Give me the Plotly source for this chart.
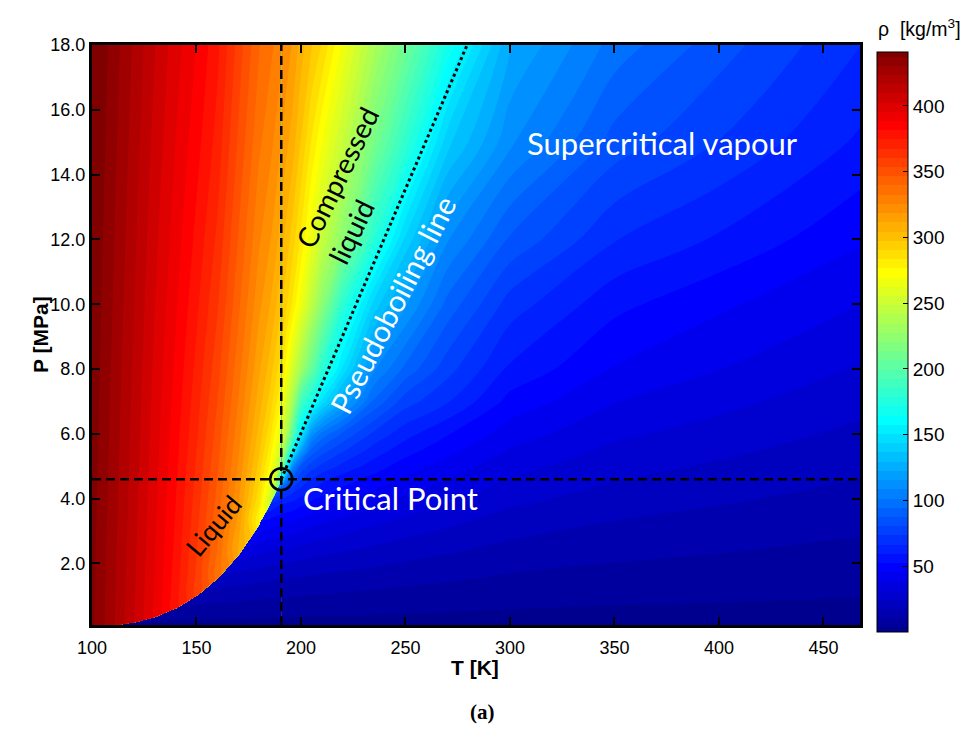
import plotly.graph_objects as go

N = None

# ---------------- data (methane density, kg/m3) ----------------
T_CRIT = 190.56
P_CRIT = 4.5992

# liquid / compressed-liquid side (T <= Tc); rows below Pc are saturation pressures
T_LIQ = [100, 110, 120, 130, 140, 150, 160, 170, 180, 185, 188, 190.56]
P_LIQ = [0.0881, 0.1917, 0.3680, 0.6412, 1.0405, 1.5928, 2.3283, 3.2860, 3.8590,
         4.2530, 4.5992, 5, 5.5, 6, 7, 8, 10, 12, 15, 18]
RHO_LIQ = [
    [438.9, 424.8, N, N, N, N, N, N, N, N, N, N],
    [439.0, 424.9, 409.9, N, N, N, N, N, N, N, N, N],
    [439.0, 424.9, 410.0, 394.0, N, N, N, N, N, N, N, N],
    [439.2, 425.1, 410.2, 394.2, 376.9, N, N, N, N, N, N, N],
    [439.4, 425.3, 410.5, 394.6, 377.5, 357.9, N, N, N, N, N, N],
    [439.6, 425.6, 410.9, 395.1, 378.3, 359.2, 336.1, N, N, N, N, N],
    [439.9, 426.0, 411.4, 395.8, 379.4, 360.8, 338.7, 310.5, N, N, N, N],
    [440.4, 426.6, 412.1, 396.6, 380.8, 362.9, 342.0, 316.3, 276.7, N, N, N],
    [440.6, 426.9, 412.5, 397.1, 381.6, 364.1, 343.9, 319.3, 284.2, 251.7, N, N],
    [440.8, 427.1, 412.7, 397.5, 382.1, 365.0, 345.2, 321.3, 288.4, 261.9, 231.0, N],
    [441.0, 427.3, 413.0, 397.8, 382.6, 365.7, 346.3, 322.9, 291.7, 268.7, 245.3, 162.7],
    [441.1, 427.5, 413.3, 398.2, 383.2, 366.5, 347.6, 324.7, 295.1, 275.0, 256.5, 232.0],
    [441.4, 427.8, 413.6, 398.6, 383.9, 367.6, 349.1, 326.8, 298.8, 281.4, 266.4, 250.0],
    [441.6, 428.1, 414.0, 399.1, 384.5, 368.6, 350.6, 328.7, 302.2, 286.7, 274.0, 261.0],
    [442.0, 428.6, 414.7, 400.0, 385.8, 370.5, 353.5, 332.3, 307.9, 295.2, 285.1, 276.0],
    [442.5, 429.2, 415.4, 400.9, 387.1, 372.5, 356.3, 335.6, 312.7, 301.8, 293.4, 286.0],
    [443.4, 430.3, 416.8, 402.7, 389.7, 376.1, 361.4, 341.3, 320.4, 311.9, 305.3, 298.0],
    [444.3, 431.4, 418.2, 404.5, 392.1, 379.5, 366.0, 346.1, 326.5, 319.4, 313.9, 307.0],
    [445.6, 433.0, 420.3, 407.2, 395.4, 384.2, 371.8, 352.3, 333.9, 328.1, 323.6, 318.0],
    [447.0, 434.6, 422.4, 409.9, 398.5, 388.3, 376.3, 357.5, 339.8, 334.8, 331.0, 328.0],
]

# vapour side below the critical temperature (same saturation-pressure rows)
T_VAP = [110, 120, 130, 140, 150, 160, 170, 180, 185, 188, 190.56]
P_VAP = [0.0881, 0.1917, 0.3680, 0.6412, 1.0405, 1.5928, 2.3283, 3.2860, 3.8590,
         4.2530, 4.5992]
RHO_VAP = [
    [1.60, 1.46, 1.34, 1.24, 1.155, 1.08, 1.015, 0.957, 0.93, 0.915, 0.90],
    [3.40, 3.26, 2.99, 2.76, 2.56, 2.39, 2.24, 2.11, 2.05, 2.01, 1.98],
    [N, 6.21, 5.94, 5.48, 5.06, 4.71, 4.40, 4.13, 4.01, 3.93, 3.88],
    [N, N, 10.39, 9.93, 9.17, 8.48, 7.89, 7.38, 7.15, 7.02, 6.91],
    [N, N, N, 16.46, 15.7, 14.4, 13.3, 12.4, 11.98, 11.75, 11.55],
    [N, N, N, N, 25.3, 24.0, 21.8, 20.1, 19.3, 18.9, 18.6],
    [N, N, N, N, N, 37.9, 35.7, 32.2, 30.7, 29.9, 29.3],
    [N, N, N, N, N, N, 56.9, 53.4, 49.7, 48.2, 46.9],
    [N, N, N, N, N, N, N, 70.7, 67.0, 62.9, 60.6],
    [N, N, N, N, N, N, N, N, 90.1, 86.0, 78.3],
    [N, N, N, N, N, N, N, N, N, 170.4, 162.7],
]

# supercritical temperatures (T >= Tc)
T_SC = [190.56, 193, 196, 200, 205, 210, 220, 235, 250, 270, 300, 350, 400, 470]
P_SC = [0.0881, 0.3680, 1.0405, 1.5928, 2.3283, 3.2860, 3.8590, 4.2530, 4.5992,
        5, 5.5, 6, 7, 8, 10, 12, 15, 18]
RHO_SC = [
    [0.90, 0.89, 0.88, 0.86, 0.84, 0.82, 0.78, 0.73, 0.67, 0.61, 0.51, 0.43, 0.39, 0.32],
    [3.88, 3.82, 3.76, 3.68, 3.58, 3.49, 3.33, 3.11, 2.85, 2.58, 2.17, 1.81, 1.61, 1.34],
    [11.55, 11.5, 11.3, 11.0, 10.7, 10.36, 9.81, 9.11, 8.33, 7.52, 6.27, 5.20, 4.62, 3.79],
    [18.6, 18.4, 18.2, 17.7, 17.1, 16.5, 15.6, 14.45, 13.1, 11.8, 9.81, 8.09, 7.15, 5.84],
    [29.3, 29.0, 28.6, 27.7, 26.6, 25.6, 24.0, 22.1, 20.0, 17.9, 14.8, 12.1, 10.6, 8.58],
    [46.9, 45.9, 44.8, 43.1, 41.0, 39.2, 36.3, 32.9, 29.6, 26.2, 21.4, 17.3, 15.1, 12.1],
    [60.6, 59.3, 58.0, 54.8, 51.2, 48.6, 44.5, 40.1, 35.8, 31.5, 25.6, 20.6, 17.9, 14.3],
    [78.3, 74.0, 68.6, 63.6, 58.9, 55.8, 50.7, 45.1, 40.2, 35.1, 28.4, 22.8, 19.9, 15.8],
    [162.7, 105.0, 86.0, 74.0, 66.0, 61.5, 56.0, 50.0, 44.3, 38.5, 31.0, 24.8, 21.6, 17.2],
    [232.0, 168.0, 110.0, 86.0, 77.2, 71.8, 64.5, 55.9, 49.1, 42.6, 34.0, 27.1, 23.6, 18.7],
    [250.0, 215.0, 165.0, 120.0, 92.5, 84.2, 74.8, 63.6, 55.5, 47.8, 37.9, 30.0, 26.1, 20.7],
    [261.0, 240.0, 200.0, 155.0, 113.0, 99.3, 86.3, 71.9, 62.1, 53.1, 41.9, 32.9, 28.6, 22.6],
    [276.0, 255.0, 235.0, 190.0, 172.0, 148.0, 122.0, 93.0, 76.7, 67.2, 50.0, 38.8, 33.6, 26.5],
    [286.0, 272.0, 255.0, 232.0, 205.0, 180.0, 149.0, 109.5, 92.4, 76.2, 58.2, 44.9, 38.6, 30.4],
    [298.0, 292.0, 282.0, 266.0, 245.0, 223.0, 180.0, 141.0, 116.6, 92.2, 70.2, 54.6, 46.8, 38.2],
    [307.0, 302.0, 294.0, 282.0, 265.0, 248.0, 222.0, 178.0, 142.0, 109.4, 86.4, 66.9, 58.5, 46.1],
    [318.0, 313.5, 308.0, 297.0, 283.0, 270.0, 248.0, 213.0, 182.0, 139.2, 110.0, 84.5, 73.2, 57.6],
    [328.0, 323.0, 317.5, 308.0, 298.0, 290.0, 268.0, 236.0, 209.0, 170.0, 123.0, 98.6, 83.7, 66.0],
]

# pseudoboiling line (end points as drawn) and the stray end dot above the frame
PB_T = [190.56, 279.5]
PB_P = [4.5992, 18.0]
PB_DOT_T = [280.7]
PB_DOT_P = [18.22]

X_TICKS = [100, 150, 200, 250, 300, 350, 400, 450]
Y_TICKS = [2, 4, 6, 8, 10, 12, 14, 16, 18]
CB_TICKS = [50, 100, 150, 200, 250, 300, 350, 400]

# ---------------- figure ----------------
JET = [[0.0, 'rgb(0,0,143)'], [0.111, 'rgb(0,0,255)'], [0.365, 'rgb(0,255,255)'],
       [0.619, 'rgb(255,255,0)'], [0.873, 'rgb(255,0,0)'], [1.0, 'rgb(128,0,0)']]

LEVELS = dict(start=3.5, end=442.5, size=7, coloring='fill', showlines=False)
common = dict(colorscale=JET, autocontour=False, contours=LEVELS,
              line=dict(width=0), hoverinfo='skip')
ARIAL = 'Arial, Liberation Sans, sans-serif'

fig = go.Figure()

fig.add_trace(go.Contour(
    x=T_SC, y=P_SC, z=RHO_SC, showscale=True,
    colorbar=dict(x=1.0221, xanchor='left', xpad=0, thickness=31,
                  len=580, lenmode='pixels', y=0.488, yanchor='middle', ypad=0,
                  outlinewidth=1, outlinecolor='black',
                  tickvals=CB_TICKS, ticks='inside', ticklen=5, tickcolor='black',
                  tickfont=dict(family=ARIAL, size=19, color='black')),
    **common))
fig.add_trace(go.Contour(x=T_VAP, y=P_VAP, z=RHO_VAP, showscale=False,
                         connectgaps=True, **common))
fig.add_trace(go.Contour(x=T_LIQ, y=P_LIQ, z=RHO_LIQ, showscale=False,
                         connectgaps=False, **common))

# pseudoboiling (dotted) line
fig.add_trace(go.Scatter(x=PB_T, y=PB_P, mode='lines',
                         line=dict(color='black', width=3, dash='3px,3px'),
                         hoverinfo='skip', showlegend=False))
fig.add_trace(go.Scatter(x=PB_DOT_T, y=PB_DOT_P, mode='markers', cliponaxis=False,
                         marker=dict(color='black', size=4), hoverinfo='skip',
                         showlegend=False))

# critical point dashed lines and circle
fig.add_shape(type='line', xref='x', yref='y', x0=X_TICKS[0], x1=467.5,
              y0=P_CRIT, y1=P_CRIT, line=dict(color='black', width=2.5, dash='9px,5px'))
fig.add_shape(type='line', xref='x', yref='y', x0=T_CRIT, x1=T_CRIT,
              y0=0.1, y1=18, line=dict(color='black', width=2.5, dash='9px,5px'))
fig.add_shape(type='circle', xref='x', yref='y', xsizemode='pixel', ysizemode='pixel',
              xanchor=T_CRIT, yanchor=P_CRIT, x0=-11, x1=11, y0=-11, y1=11,
              line=dict(color='black', width=2.5))

TXT = 'Lato'
ann = [
    dict(x=372.8, y=14.97, text='Supercritical vapour', textangle=0,
         font=dict(family=TXT, size=31, color='white')),
    dict(x=242.6, y=4.02, text='Critical Point', textangle=0,
         font=dict(family=TXT, size=31, color='white')),
    dict(x=157.9, y=3.15, text='Liquid', textangle=-50,
         font=dict(family=TXT, size=26, color='black')),
    dict(x=225.0, y=13.68, text='Compressed<br>liquid', textangle=-64, align='left',
         font=dict(family=TXT, size=28, color='black')),
    dict(x=243.6, y=9.98, text='Pseudoboiling line', textangle=-63,
         font=dict(family=TXT, size=30, color='white')),
]
for a in ann:
    a.update(xref='x', yref='y', showarrow=False, xanchor='center', yanchor='middle')
    fig.add_annotation(**a)

fig.add_annotation(xref='paper', yref='paper', x=0.4987, y=-0.074, showarrow=False,
                   xanchor='center', yanchor='middle',
                   text='<b>T [K]</b>', font=dict(family=ARIAL, size=21, color='black'))
fig.add_annotation(xref='paper', yref='paper', x=-0.0677, y=0.5, showarrow=False,
                   xanchor='center', yanchor='middle', textangle=-90,
                   text='<b>P [MPa]</b>', font=dict(family=ARIAL, size=21, color='black'))
fig.add_annotation(xref='paper', yref='paper', x=0.509, y=-0.15, showarrow=False,
                   xanchor='center', yanchor='middle',
                   text='<b>(a)</b>', font=dict(family='Liberation Serif', size=21, color='black'))
fig.add_annotation(xref='paper', yref='paper', x=1.0208, y=1.029, showarrow=False,
                   xanchor='left', yanchor='middle',
                   text='ρ  [kg/m<sup>3</sup>]', font=dict(family=ARIAL, size=19.5, color='black'))

axis_common = dict(showline=True, linecolor='black', linewidth=3, mirror='ticks',
                   ticks='inside', ticklen=8, tickwidth=2, tickcolor='black',
                   showgrid=False, zeroline=False,
                   tickfont=dict(family=ARIAL, size=18, color='black'))
fig.update_layout(
    width=967, height=738, margin=dict(l=92, r=107, t=45, b=113),
    paper_bgcolor='white', plot_bgcolor='white', showlegend=False,
    xaxis=dict(range=[100, 467.5], tickvals=X_TICKS, ticklabelstandoff=4, **axis_common),
    yaxis=dict(range=[0.1, 18], tickvals=Y_TICKS, tickformat='.1f', **axis_common),
)

fig.write_html('out.html')
